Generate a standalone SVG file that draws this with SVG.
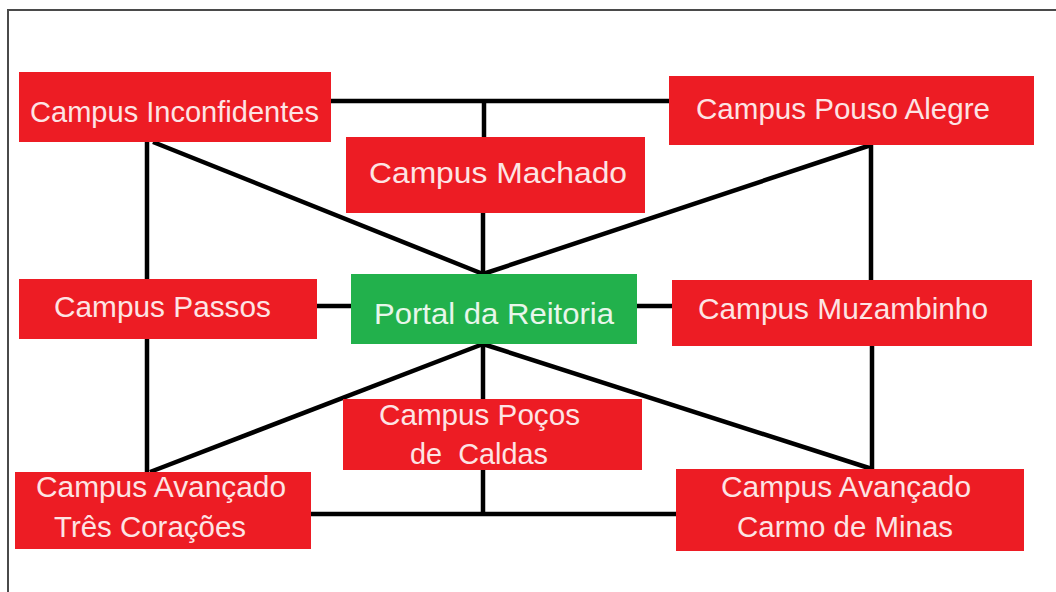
<svg xmlns="http://www.w3.org/2000/svg" width="1056" height="592" viewBox="0 0 1056 592">
<style>
.box{fill:#ed1c24}
.portal{fill:#22b14c}
.t{font-family:"Liberation Sans",Arial,sans-serif;font-size:30px;fill:#fde4e4}
.tg{font-family:"Liberation Sans",Arial,sans-serif;font-size:30px;fill:#e8f6ea}
.c{stroke:#000;stroke-width:4.5;fill:none;stroke-linecap:butt}
</style>
<rect width="1056" height="592" fill="#fff"/>
<path d="M8,592 V10 H1056" fill="none" stroke="#4a4a4a" stroke-width="2"/>
<g id="connectors">
<line class="c" x1="331" y1="101" x2="669" y2="101"/>
<line class="c" x1="484" y1="101" x2="484" y2="137"/>
<line class="c" x1="483" y1="213" x2="483" y2="274"/>
<line class="c" x1="153" y1="142" x2="483" y2="274"/>
<line class="c" x1="871" y1="145" x2="483" y2="274"/>
<line class="c" x1="147" y1="142" x2="147" y2="279"/>
<line class="c" x1="871" y1="145" x2="871" y2="280"/>
<line class="c" x1="316" y1="306" x2="351" y2="306"/>
<line class="c" x1="637" y1="306" x2="672" y2="306"/>
<line class="c" x1="483" y1="344" x2="150" y2="472"/>
<line class="c" x1="483" y1="344" x2="483" y2="399"/>
<line class="c" x1="483" y1="344" x2="872" y2="469"/>
<line class="c" x1="147" y1="339" x2="147" y2="472"/>
<line class="c" x1="872" y1="346" x2="872" y2="469"/>
<line class="c" x1="483" y1="470" x2="483" y2="514"/>
<line class="c" x1="311" y1="514" x2="676" y2="514"/>
</g>
<g id="inconfidentes">
<rect class="box" x="19" y="72" width="312" height="70"/>
<text class="t" x="30" y="122" textLength="289" lengthAdjust="spacingAndGlyphs">Campus Inconfidentes</text>
</g>
<g id="machado">
<rect class="box" x="346" y="137" width="299" height="76"/>
<text class="t" x="369" y="183" textLength="258" lengthAdjust="spacingAndGlyphs">Campus Machado</text>
</g>
<g id="pouso-alegre">
<rect class="box" x="669" y="76" width="365" height="69"/>
<text class="t" x="696" y="119" textLength="294" lengthAdjust="spacingAndGlyphs">Campus Pouso Alegre</text>
</g>
<g id="passos">
<rect class="box" x="19" y="279" width="298" height="60"/>
<text class="t" x="54" y="317" textLength="217" lengthAdjust="spacingAndGlyphs">Campus Passos</text>
</g>
<g id="portal">
<rect class="portal" x="351" y="274" width="286" height="70"/>
<text class="tg" x="374" y="324" textLength="240" lengthAdjust="spacingAndGlyphs">Portal da Reitoria</text>
</g>
<g id="muzambinho">
<rect class="box" x="672" y="280" width="360" height="66"/>
<text class="t" x="698" y="319" textLength="290" lengthAdjust="spacingAndGlyphs">Campus Muzambinho</text>
</g>
<g id="pocos-de-caldas">
<rect class="box" x="343" y="399" width="299" height="71"/>
<text class="t" x="379" y="425" textLength="201" lengthAdjust="spacingAndGlyphs">Campus Poços</text>
<text class="t" x="410" y="464" textLength="138" lengthAdjust="spacingAndGlyphs" xml:space="preserve">de  Caldas</text>
</g>
<g id="tres-coracoes">
<rect class="box" x="15" y="472" width="296" height="77"/>
<text class="t" x="36" y="497" textLength="250" lengthAdjust="spacingAndGlyphs">Campus Avançado</text>
<text class="t" x="54" y="537" textLength="192" lengthAdjust="spacingAndGlyphs">Três Corações</text>
</g>
<g id="carmo-de-minas">
<rect class="box" x="676" y="469" width="348" height="82"/>
<text class="t" x="721" y="497" textLength="250" lengthAdjust="spacingAndGlyphs">Campus Avançado</text>
<text class="t" x="737" y="537" textLength="216" lengthAdjust="spacingAndGlyphs">Carmo de Minas</text>
</g>
</svg>
